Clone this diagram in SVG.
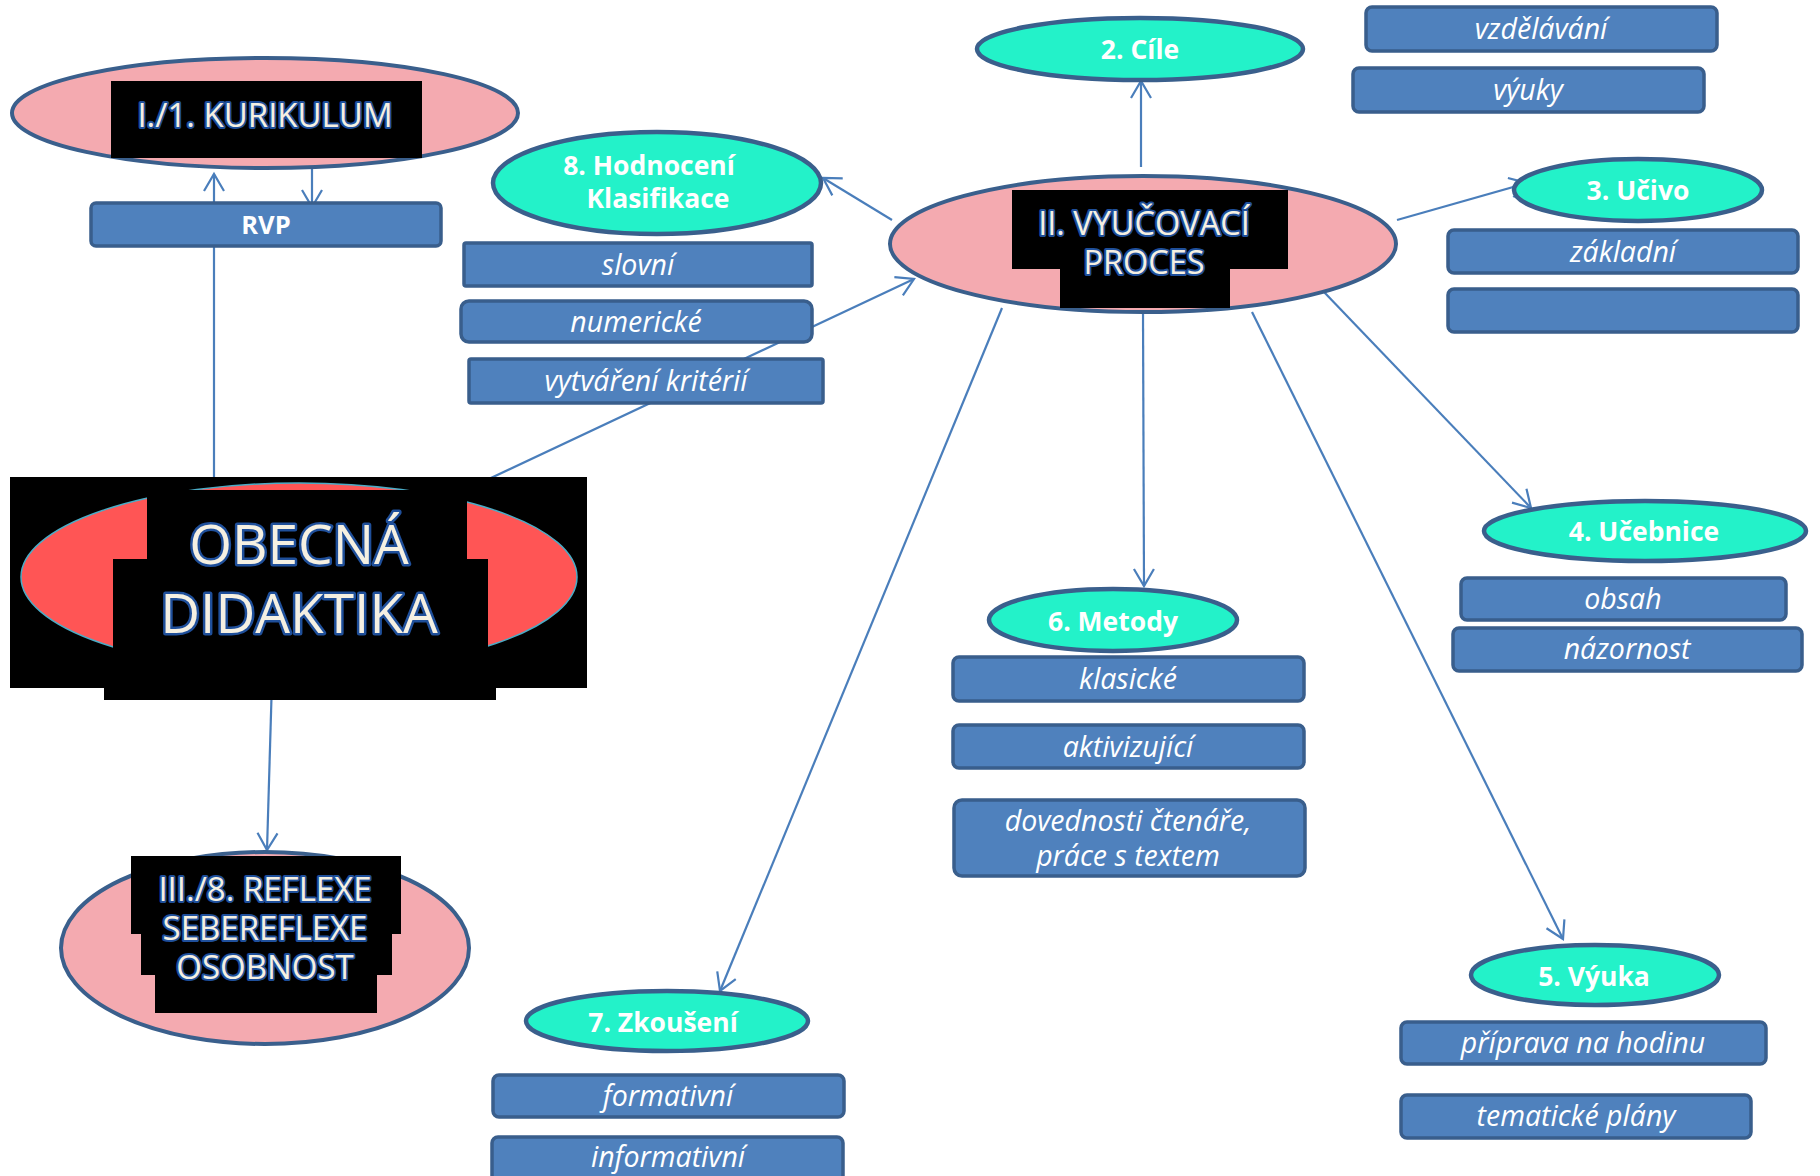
<svg xmlns="http://www.w3.org/2000/svg" width="1820" height="1176" viewBox="0 0 1820 1176">
<defs>
<style>
.conn{stroke:#4a7ebb;stroke-width:2.2;fill:none}
.main{fill:#f4aab0;stroke:#3a5f8c;stroke-width:4}
.topic{fill:#23f2c9;stroke:#3a5f8c;stroke-width:4.5}
.box{fill:#4f81bd;stroke:#395e8c;stroke-width:3.5}
.blk{fill:#000000}
.hd{font-family:"Open Sans","Noto Sans",sans-serif;font-size:33px;fill:#f5f0e2;stroke:#1f4f9a;stroke-width:4;paint-order:stroke;stroke-linejoin:round;text-anchor:middle}
.big{font-size:55px;stroke-width:5}
.tl{font-family:"Open Sans","Noto Sans",sans-serif;font-size:26.5px;font-weight:bold;fill:#ffffff;text-anchor:middle}
.bt{font-family:"Open Sans","Noto Sans",sans-serif;font-size:28.5px;font-style:italic;fill:#ffffff;text-anchor:middle}
</style>
<marker id="arr" markerUnits="userSpaceOnUse" markerWidth="22" markerHeight="24" viewBox="0 0 22 24" refX="19" refY="12" orient="auto">
<path d="M2,2 L19,12 L2,22" fill="none" stroke="#4a7ebb" stroke-width="2.2"/>
</marker>
</defs>
<rect width="1820" height="1176" fill="#ffffff"/>

<g id="connectors">
<line class="conn" x1="214" y1="485" x2="214" y2="174" marker-end="url(#arr)"/>
<line class="conn" x1="312" y1="168" x2="312" y2="207" marker-end="url(#arr)"/>
<line class="conn" x1="1141" y1="167" x2="1141" y2="81" marker-end="url(#arr)"/>
<line class="conn" x1="892" y1="220" x2="823" y2="178" marker-end="url(#arr)"/>
<line class="conn" x1="440" y1="502" x2="914" y2="279" marker-end="url(#arr)"/>
<line class="conn" x1="1397" y1="220" x2="1527" y2="183" marker-end="url(#arr)"/>
<line class="conn" x1="1324" y1="292" x2="1531" y2="508" marker-end="url(#arr)"/>
<line class="conn" x1="1143" y1="312" x2="1144" y2="586" marker-end="url(#arr)"/>
<line class="conn" x1="1252" y1="312" x2="1563" y2="939" marker-end="url(#arr)"/>
<line class="conn" x1="1002" y1="308" x2="720" y2="991" marker-end="url(#arr)"/>
<line class="conn" x1="272" y1="680" x2="267" y2="850" marker-end="url(#arr)"/>
</g>

<g id="kurikulum">
<ellipse class="main" cx="265" cy="113" rx="253" ry="55"/>
<rect class="blk" x="111" y="81" width="311" height="77"/>
<text class="hd" x="265" y="127">I./1. KURIKULUM</text>
</g>

<g id="rvp">
<rect class="box" x="91" y="203" width="350" height="43" rx="5"/>
<text class="tl" x="266" y="234" style="font-size:25.5px">RVP</text>
</g>

<g id="obecna-didaktika">
<rect class="blk" x="10" y="477" width="577" height="211"/>
<rect class="blk" x="104" y="660" width="392" height="40"/>
<ellipse cx="299" cy="577" rx="278" ry="94" fill="#ff5555" stroke="#4bacc6" stroke-width="1.5"/>
<rect class="blk" x="147" y="490" width="320" height="210"/>
<rect class="blk" x="113" y="559" width="375" height="141"/>
<text class="hd big" x="299" y="564">OBECNÁ</text>
<text class="hd big" x="299" y="633">DIDAKTIKA</text>
</g>

<g id="reflexe">
<ellipse class="main" cx="265" cy="948" rx="204" ry="96"/>
<rect class="blk" x="131" y="856" width="270" height="78"/>
<rect class="blk" x="141" y="933" width="251" height="42"/>
<rect class="blk" x="155" y="974" width="222" height="39"/>
<text class="hd" x="265" y="901">III./8. REFLEXE</text>
<text class="hd" x="265" y="940">SEBEREFLEXE</text>
<text class="hd" x="265" y="979">OSOBNOST</text>
</g>

<g id="vyucovaci-proces">
<ellipse class="main" cx="1143" cy="244" rx="253" ry="68"/>
<rect class="blk" x="1012" y="190" width="276" height="79"/>
<rect class="blk" x="1060" y="268" width="170" height="40"/>
<text class="hd" x="1144" y="235" style="font-size:32.5px">II. VYUČOVACÍ</text>
<text class="hd" x="1144" y="274" style="font-size:32.5px">PROCES</text>
</g>

<g id="cile">
<ellipse class="topic" cx="1140" cy="49" rx="163" ry="31"/>
<text class="tl" x="1140" y="59">2. Cíle</text>
</g>
<g id="vzdelavani">
<rect class="box" x="1366" y="7" width="351" height="44" rx="6"/>
<text class="bt" x="1541" y="39">vzdělávání</text>
</g>
<g id="vyuky">
<rect class="box" x="1353" y="68" width="351" height="44" rx="6"/>
<text class="bt" x="1528" y="100">výuky</text>
</g>

<g id="hodnoceni">
<ellipse class="topic" cx="657" cy="183" rx="164" ry="51"/>
<text class="tl" x="649" y="175">8. Hodnocení</text>
<text class="tl" x="658" y="208">Klasifikace</text>
</g>
<g id="slovni">
<rect class="box" x="464" y="243" width="348" height="43" rx="2"/>
<text class="bt" x="638" y="275">slovní</text>
</g>
<g id="numericke">
<rect class="box" x="461" y="301" width="351" height="41" rx="8"/>
<text class="bt" x="636" y="332">numerické</text>
</g>
<g id="vytvareni-kriterii">
<rect class="box" x="469" y="359" width="354" height="44" rx="2"/>
<text class="bt" x="646" y="391">vytváření kritérií</text>
</g>

<g id="ucivo">
<ellipse class="topic" cx="1638" cy="190" rx="124" ry="31"/>
<text class="tl" x="1638" y="200">3. Učivo</text>
</g>
<g id="zakladni">
<rect class="box" x="1448" y="230" width="350" height="43" rx="6"/>
<text class="bt" x="1623" y="262">základní</text>
</g>
<g id="prazdny">
<rect class="box" x="1448" y="289" width="350" height="43" rx="6"/>
</g>

<g id="ucebnice">
<ellipse class="topic" cx="1645" cy="531" rx="161" ry="30"/>
<text class="tl" x="1644" y="541">4. Učebnice</text>
</g>
<g id="obsah">
<rect class="box" x="1461" y="578" width="325" height="42" rx="6"/>
<text class="bt" x="1623" y="609">obsah</text>
</g>
<g id="nazornost">
<rect class="box" x="1453" y="628" width="349" height="43" rx="6"/>
<text class="bt" x="1627" y="659">názornost</text>
</g>

<g id="metody">
<ellipse class="topic" cx="1113" cy="620" rx="124" ry="31"/>
<text class="tl" x="1113" y="631">6. Metody</text>
</g>
<g id="klasicke">
<rect class="box" x="953" y="657" width="351" height="44" rx="6"/>
<text class="bt" x="1128" y="689">klasické</text>
</g>
<g id="aktivizujici">
<rect class="box" x="953" y="725" width="351" height="43" rx="6"/>
<text class="bt" x="1128" y="757">aktivizující</text>
</g>
<g id="dovednosti">
<rect class="box" x="954" y="800" width="351" height="76" rx="8"/>
<text class="bt" x="1128" y="831">dovednosti čtenáře,</text>
<text class="bt" x="1128" y="866">práce s textem</text>
</g>

<g id="vyuka">
<ellipse class="topic" cx="1595" cy="975" rx="124" ry="30"/>
<text class="tl" x="1594" y="986">5. Výuka</text>
</g>
<g id="priprava">
<rect class="box" x="1401" y="1022" width="365" height="42" rx="6"/>
<text class="bt" x="1583" y="1053">příprava na hodinu</text>
</g>
<g id="tematicke-plany">
<rect class="box" x="1401" y="1095" width="350" height="43" rx="6"/>
<text class="bt" x="1576" y="1126">tematické plány</text>
</g>

<g id="zkouseni">
<ellipse class="topic" cx="667" cy="1021" rx="141" ry="30"/>
<text class="tl" x="663" y="1032">7. Zkoušení</text>
</g>
<g id="formativni">
<rect class="box" x="493" y="1075" width="351" height="42" rx="6"/>
<text class="bt" x="668" y="1106">formativní</text>
</g>
<g id="informativni">
<rect class="box" x="492" y="1137" width="351" height="50" rx="6"/>
<text class="bt" x="668" y="1167">informativní</text>
</g>
</svg>
